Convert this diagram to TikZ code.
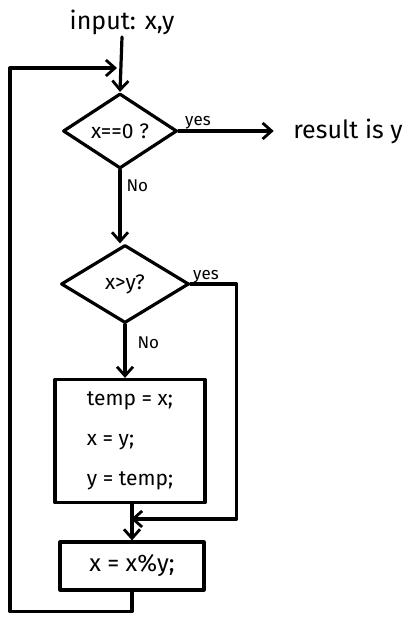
\documentclass[tikz,border=0pt]{standalone}
\usepackage{fontspec}
\setmainfont{Fira Sans}
\usetikzlibrary{shapes.geometric,arrows.meta,calc}
\begin{document}
\begin{tikzpicture}[x=1pt,y=-1pt,
  line width=3.2pt, line cap=round, line join=round,
  tip/.style={-{Straight Barb[length=9pt,width=16pt,line width=2.8pt]}},
  dec/.style={diamond, draw, inner sep=0pt, font=\fontsize{21}{24}\selectfont},
  proc/.style={rectangle, draw, inner sep=0pt, font=\fontsize{21}{24}\selectfont},
  lbl/.style={font=\fontsize{17}{20}\selectfont, inner sep=1pt},
  txt/.style={font=\fontsize{25}{28}\selectfont, inner sep=1pt}]
\useasboundingbox (0,0) rectangle (417,617);
\node[txt] (in) at (122,22) {input: x,y};
\node[dec, minimum width=114pt, minimum height=75pt] (d1) at (120,131) {x==0 ?};
\node[txt, inner xsep=0pt] (res) at (348,131) {result is y};
\node[dec, minimum width=128pt, minimum height=78pt] (d2) at (125,284) {x>y?};
\node[proc, minimum width=150pt, minimum height=123pt, align=left] (b1) at (130,441)
  {temp = x;\\[16pt] x = y;\\[16pt] y = temp;};
\node[proc, minimum width=144pt, minimum height=48pt, font=\fontsize{24}{28}\selectfont] (b2) at (132,566) {x = x\%y;};
\coordinate (loopin) at (117,68);
\coordinate (join) at (131,519);
\draw[tip] (in.south) -- (d1.north);
\draw[tip, shorten >=18pt] (d1.east) -- (res.west);
\node[lbl, anchor=south west] (yes1) at ([xshift=4pt,yshift=-1pt]d1.east) {yes};
\draw[tip] (d1.south) -- (d1.south |- d2.north);
\node[lbl, anchor=west] (no1) at (124,186) {No};
\draw[tip] (d2.south) -- (d2.south |- b1.north);
\node[lbl, anchor=west] (no2) at (135,343) {No};
\draw[tip] (d2.east) -- ++(46,0) |- (join);
\node[lbl, anchor=south west] (yes2) at ([xshift=0pt,yshift=-2pt]d2.east) {yes};
\draw[tip] (b1.south -| b2.north) -- (b2.north);
\draw[tip] (b2.south) -- ++(0,20) -| (10,68) -- (loopin);
\end{tikzpicture}
\end{document}
